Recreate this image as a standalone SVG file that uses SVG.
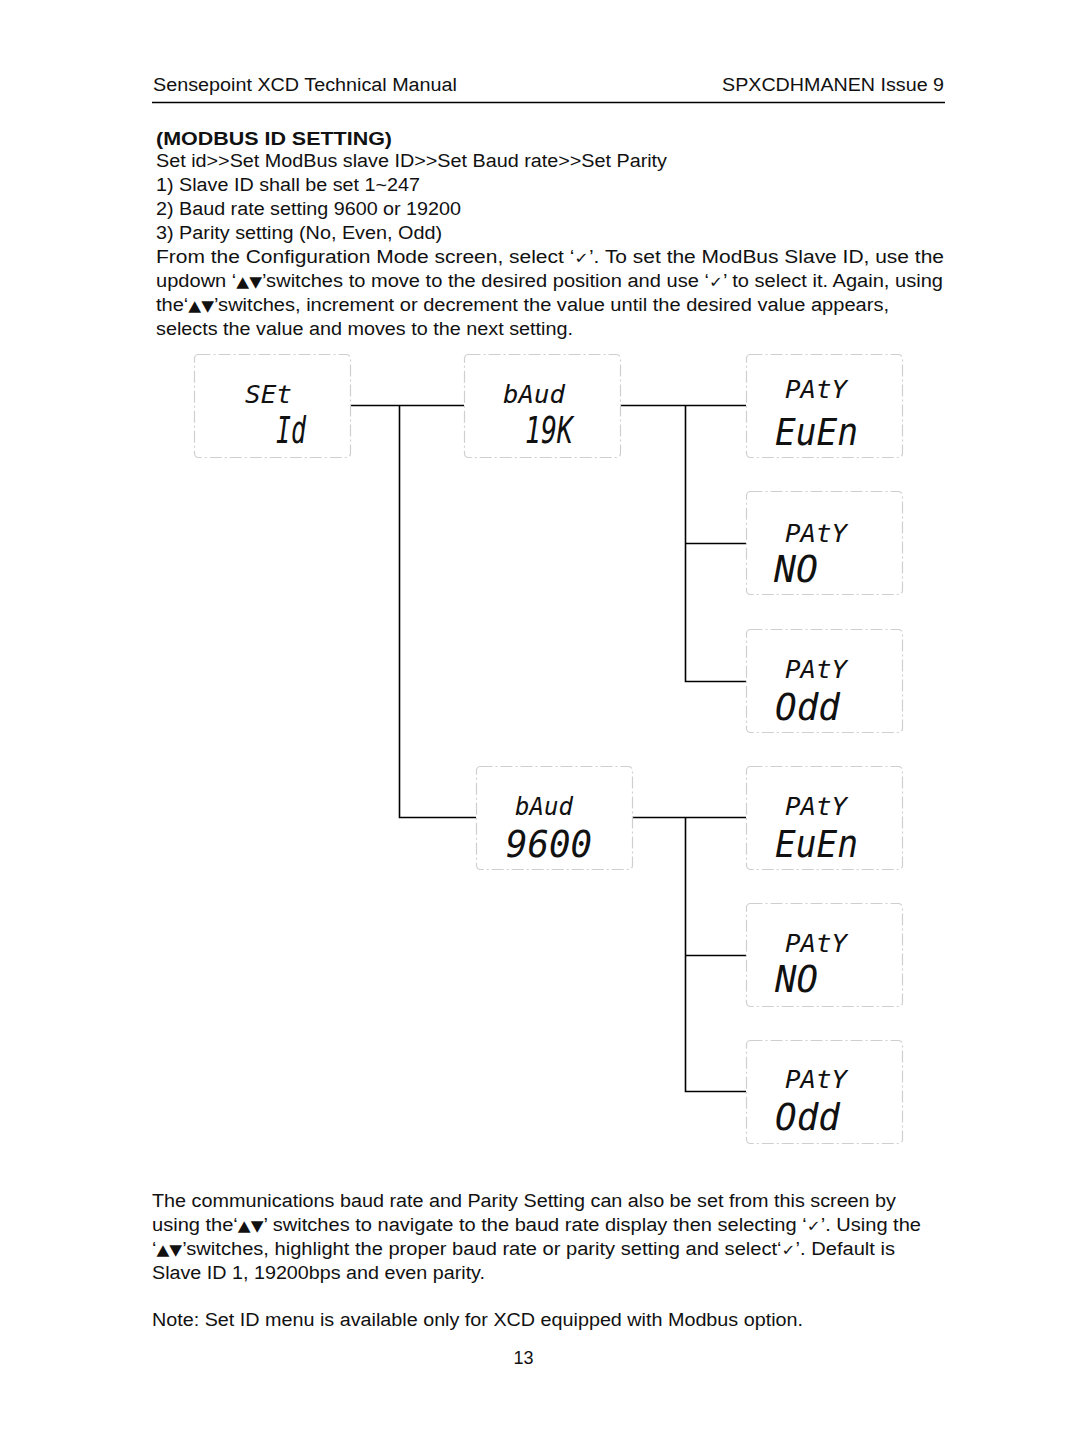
<svg xmlns="http://www.w3.org/2000/svg" width="1072" height="1455" viewBox="0 0 1072 1455">
<style>
.t{font-family:"Liberation Sans",Arial,sans-serif;font-size:18px;fill:#111}
.b{font-weight:bold}
.a{font-family:"DejaVu Sans",sans-serif;font-size:15px}
.box{fill:#fff;stroke:#cfcfcf;stroke-width:1.2;stroke-dasharray:12 3 2 3}
.lcd{font-family:"DejaVu Sans Mono","Liberation Mono",monospace;font-style:italic;fill:#111}
.s{font-size:25px}
.L{font-size:38px}
.c{fill:none;stroke:#000;stroke-width:1.6}
</style>
<rect width="1072" height="1455" fill="#fff"/>
<g id="header">
<text class="t" x="153" y="91" textLength="304" lengthAdjust="spacingAndGlyphs">Sensepoint XCD Technical Manual</text>
<text class="t" x="722" y="91" textLength="222" lengthAdjust="spacingAndGlyphs">SPXCDHMANEN Issue 9</text>
<line x1="152" y1="102.5" x2="945" y2="102.5" stroke="#000" stroke-width="1.3"/>
</g>
<g id="intro">
<text class="t b" x="156" y="145" textLength="236" lengthAdjust="spacingAndGlyphs">(MODBUS ID SETTING)</text>
<text class="t" x="156" y="167" textLength="511" lengthAdjust="spacingAndGlyphs">Set id&gt;&gt;Set ModBus slave ID&gt;&gt;Set Baud rate&gt;&gt;Set Parity</text>
<text class="t" x="156" y="191" textLength="264" lengthAdjust="spacingAndGlyphs">1) Slave ID shall be set 1~247</text>
<text class="t" x="156" y="215" textLength="305" lengthAdjust="spacingAndGlyphs">2) Baud rate setting 9600 or 19200</text>
<text class="t" x="156" y="239" textLength="286" lengthAdjust="spacingAndGlyphs">3) Parity setting (No, Even, Odd)</text>
<text class="t" x="156" y="263" textLength="788" lengthAdjust="spacingAndGlyphs">From the Configuration Mode screen, select ‘<tspan class="a">✓</tspan>’. To set the ModBus Slave ID, use the</text>
<text class="t" x="156" y="287" textLength="787" lengthAdjust="spacingAndGlyphs">updown ‘<tspan class="a">▲▼</tspan>’switches to move to the desired position and use ‘<tspan class="a">✓</tspan>’ to select it. Again, using</text>
<text class="t" x="156" y="311" textLength="733" lengthAdjust="spacingAndGlyphs">the‘<tspan class="a">▲▼</tspan>’switches, increment or decrement the value until the desired value appears,</text>
<text class="t" x="156" y="335" textLength="417" lengthAdjust="spacingAndGlyphs">selects the value and moves to the next setting.</text>
</g>
<g id="connectors">
<path class="c" d="M350 405.5H464M399.5 405.5V817.5H476"/>
<path class="c" d="M620 405.5H746M685.5 405.5V681.5H746M685.5 543.5H746"/>
<path class="c" d="M632 817.5H746M685.5 817.5V1091.5H746M685.5 955.5H746"/>
</g>
<g id="set-id">
<rect class="box" x="194.5" y="354.5" width="156" height="103" rx="4"/>
<text class="lcd s" x="245" y="403" textLength="47" lengthAdjust="spacingAndGlyphs">SEt</text>
<text class="lcd L" x="276" y="443" textLength="30" lengthAdjust="spacingAndGlyphs">Id</text>
</g>
<g id="baud-19k">
<rect class="box" x="464.5" y="354.5" width="156" height="103" rx="4"/>
<text class="lcd s" x="503" y="403" textLength="62" lengthAdjust="spacingAndGlyphs">bAud</text>
<text class="lcd L" x="525" y="443" textLength="48" lengthAdjust="spacingAndGlyphs">19K</text>
</g>
<g id="paty-even-1">
<rect class="box" x="746.5" y="354.5" width="156" height="103" rx="4"/>
<text class="lcd s" x="785" y="398" textLength="62" lengthAdjust="spacingAndGlyphs">PAtY</text>
<text class="lcd L" x="775" y="445" textLength="83" lengthAdjust="spacingAndGlyphs">EuEn</text>
</g>
<g id="paty-no-1">
<rect class="box" x="746.5" y="491.5" width="156" height="103" rx="4"/>
<text class="lcd s" x="785" y="542" textLength="62" lengthAdjust="spacingAndGlyphs">PAtY</text>
<text class="lcd L" x="774" y="582" textLength="44" lengthAdjust="spacingAndGlyphs">NO</text>
</g>
<g id="paty-odd-1">
<rect class="box" x="746.5" y="629.5" width="156" height="103" rx="4"/>
<text class="lcd s" x="785" y="678" textLength="62" lengthAdjust="spacingAndGlyphs">PAtY</text>
<text class="lcd L" x="775" y="720" textLength="65" lengthAdjust="spacingAndGlyphs">Odd</text>
</g>
<g id="baud-9600">
<rect class="box" x="476.5" y="766.5" width="156" height="103" rx="4"/>
<text class="lcd s" x="515" y="815" textLength="58" lengthAdjust="spacingAndGlyphs">bAud</text>
<text class="lcd L" x="506" y="857" textLength="86" lengthAdjust="spacingAndGlyphs">9600</text>
</g>
<g id="paty-even-2">
<rect class="box" x="746.5" y="766.5" width="156" height="103" rx="4"/>
<text class="lcd s" x="785" y="815" textLength="62" lengthAdjust="spacingAndGlyphs">PAtY</text>
<text class="lcd L" x="775" y="857" textLength="83" lengthAdjust="spacingAndGlyphs">EuEn</text>
</g>
<g id="paty-no-2">
<rect class="box" x="746.5" y="903.5" width="156" height="103" rx="4"/>
<text class="lcd s" x="785" y="952" textLength="62" lengthAdjust="spacingAndGlyphs">PAtY</text>
<text class="lcd L" x="775" y="992" textLength="43" lengthAdjust="spacingAndGlyphs">NO</text>
</g>
<g id="paty-odd-2">
<rect class="box" x="746.5" y="1040.5" width="156" height="103" rx="4"/>
<text class="lcd s" x="785" y="1088" textLength="62" lengthAdjust="spacingAndGlyphs">PAtY</text>
<text class="lcd L" x="775" y="1130" textLength="65" lengthAdjust="spacingAndGlyphs">Odd</text>
</g>
<g id="footer-text">
<text class="t" x="152" y="1207" textLength="744" lengthAdjust="spacingAndGlyphs">The communications baud rate and Parity Setting can also be set from this screen by</text>
<text class="t" x="152" y="1231" textLength="769" lengthAdjust="spacingAndGlyphs">using the‘<tspan class="a">▲▼</tspan>’ switches to navigate to the baud rate display then selecting ‘<tspan class="a">✓</tspan>’. Using the</text>
<text class="t" x="152" y="1255" textLength="743" lengthAdjust="spacingAndGlyphs">‘<tspan class="a">▲▼</tspan>’switches, highlight the proper baud rate or parity setting and select‘<tspan class="a">✓</tspan>’. Default is</text>
<text class="t" x="152" y="1279" textLength="333" lengthAdjust="spacingAndGlyphs">Slave ID 1, 19200bps and even parity.</text>
<text class="t" x="152" y="1326" textLength="651" lengthAdjust="spacingAndGlyphs">Note: Set ID menu is available only for XCD equipped with Modbus option.</text>
<text class="t" x="523.5" y="1364" text-anchor="middle">13</text>
</g>
</svg>
